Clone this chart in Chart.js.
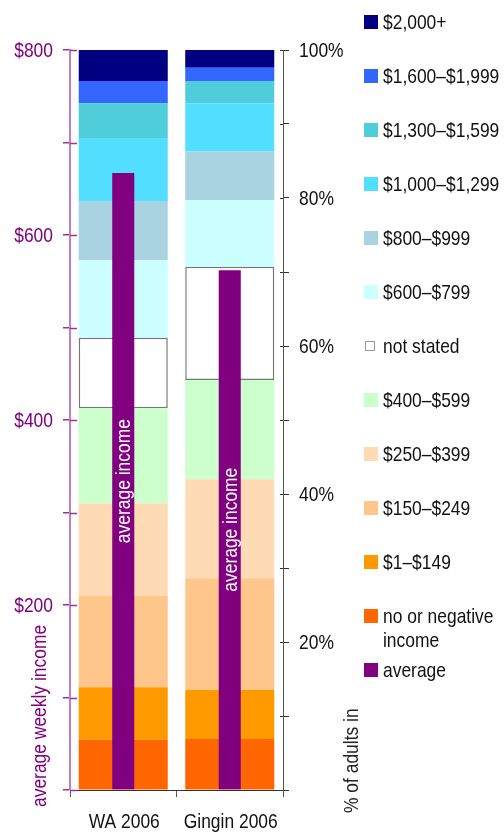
<!DOCTYPE html>
<html>
<head>
<meta charset="utf-8">
<script src="https://cdn.jsdelivr.net/npm/chart.js@4/dist/chart.umd.min.js"></script>
<style>
  html, body { margin: 0; padding: 0; background: #fff; }
  #wrap { position: relative; width: 504px; height: 832px; }
</style>
</head>
<body>
<div id="wrap"><canvas id="chart" width="504" height="832"></canvas></div>
<script>
const categories = ['WA 2006', 'Gingin 2006'];

// income bands, bottom of the stack first
const bandLabels = [
  ['no or negative', 'income'], ['$1–$149'], ['$150–$249'], ['$250–$399'], ['$400–$599'],
  ['not stated'], ['$600–$799'], ['$800–$999'], ['$1,000–$1,299'], ['$1,300–$1,599'],
  ['$1,600–$1,999'], ['$2,000+'],
];
const bandColors = [
  '#ff6600', '#ff9900', '#ffc68c', '#ffdbb5', '#ccffcc',
  '#ffffff', '#ccffff', '#aad3e1', '#52deff', '#4fcddb',
  '#3366ff', '#000080',
];

// % of adults in each band
const waShares     = [6.8, 7.1, 12.4, 12.4, 12.9, 9.5, 10.5, 8.0, 8.5, 4.7, 3.0, 4.2];
const ginginShares = [6.9, 6.6, 15.1, 13.4, 13.4, 15.3, 9.0, 6.6, 6.5, 3.0, 1.8, 2.4];

// average weekly income ($)
const averageIncome = [667, 562];

const dollarTicks = [200, 400, 600, 800];
const percentTicks = [20, 40, 60, 80, 100];

const PURPLE = '#800080';
const INK = '#111';
// source uses a narrow sans; no narrow face installed, so squeeze Liberation Sans
const FONT = "'Liberation Sans', Arial, sans-serif";
const FSIZE = 21;
const SQUEEZE = 0.83;

const NOT_STATED = 5;

function narrowText(ctx, text, x, y, opts = {}) {
  ctx.save();
  ctx.translate(x, y);
  if (opts.rotate) ctx.rotate(opts.rotate);
  ctx.scale(SQUEEZE, 1);
  ctx.font = `${FSIZE}px ${FONT}`;
  ctx.fillStyle = opts.color || INK;
  ctx.textAlign = opts.align || 'left';
  ctx.textBaseline = opts.baseline || 'middle';
  ctx.fillText(text, 0, 0);
  ctx.restore();
}

const bandSets = bandLabels.map((label, i) => ({
  label: label.join(' '),
  legendLines: label,
  data: [waShares[i], ginginShares[i]],
  yAxisID: 'y2',
  backgroundColor: bandColors[i],
  borderColor: i === NOT_STATED ? '#777' : bandColors[i],
  borderWidth: i === NOT_STATED ? 1.5 : 0,
  borderSkipped: false,
  barPercentage: 0.836,
  categoryPercentage: 1,
  order: 1,
}));

const avgSet = {
  label: 'average',
  legendLines: ['average'],
  data: averageIncome,
  yAxisID: 'y',
  backgroundColor: PURPLE,
  borderWidth: 0,
  barPercentage: 0.207,
  categoryPercentage: 1,
  order: 0,
  isAverage: true,
};

// white label down the middle of each average bar
const avgLabelPlugin = {
  id: 'avgLabel',
  afterDatasetsDraw(chart) {
    const idx = chart.data.datasets.findIndex(d => d.isAverage);
    chart.getDatasetMeta(idx).data.forEach(bar => {
      narrowText(chart.ctx, 'average income', bar.x + 1, (bar.y + bar.base) / 2,
        { rotate: -Math.PI / 2, align: 'center', color: '#fff' });
    });
  },
};

// tick labels + inner half of the tick marks (they cross the axis line in the source)
const axisDecorPlugin = {
  id: 'axisDecor',
  afterDraw(chart) {
    const ctx = chart.ctx;
    const { left, right, bottom } = chart.chartArea;
    const { x, y, y2 } = chart.scales;

    ctx.save();
    ctx.lineWidth = 1.5;
    ctx.strokeStyle = '#993399';
    y.ticks.forEach(t => {
      const py = Math.round(y.getPixelForValue(t.value)) + 0.5;
      ctx.beginPath(); ctx.moveTo(left, py); ctx.lineTo(left + 7, py); ctx.stroke();
    });
    ctx.lineWidth = 1;
    ctx.strokeStyle = '#333';
    y2.ticks.forEach(t => {
      const py = Math.round(y2.getPixelForValue(t.value)) + 0.5;
      ctx.beginPath(); ctx.moveTo(right - 3, py); ctx.lineTo(right, py); ctx.stroke();
    });
    ctx.restore();

    dollarTicks.forEach(v => narrowText(ctx, '$' + v, left - 17, y.getPixelForValue(v) + 1,
      { align: 'right', color: PURPLE }));
    percentTicks.forEach(v => narrowText(ctx, v + '%', right + 16, y2.getPixelForValue(v) + 1));
    categories.forEach((c, i) => narrowText(ctx, c, x.getPixelForValue(i) + 1, bottom + 38,
      { align: 'center', baseline: 'alphabetic' }));

    // rotated axis titles sitting low on each side
    narrowText(ctx, 'average weekly income', 40, 807, { rotate: -Math.PI / 2, color: PURPLE });
    narrowText(ctx, '% of adults in', right + 69, 813, { rotate: -Math.PI / 2, color: '#222' });
  },
};

// legend column on the right, highest band first
const sideLegendPlugin = {
  id: 'sideLegend',
  afterDraw(chart) {
    const ctx = chart.ctx;
    const sets = chart.data.datasets;
    const items = sets.filter(d => !d.isAverage).slice().reverse().concat(sets.filter(d => d.isAverage));
    const x0 = 364;
    let yy = 22;
    items.forEach(item => {
      ctx.save();
      if (item.borderWidth) {
        ctx.fillStyle = '#fff';
        ctx.fillRect(x0 + 1, yy - 5, 10, 10);
        ctx.strokeStyle = '#999';
        ctx.lineWidth = 1;
        ctx.strokeRect(x0 + 1.5, yy - 4.5, 9, 9);
      } else {
        ctx.fillStyle = item.backgroundColor;
        ctx.fillRect(x0, yy - 7, 14, 14);
      }
      ctx.restore();
      item.legendLines.forEach((line, k) => narrowText(ctx, line, 383, yy + 1 + k * 24));
      yy += 54;
    });
  },
};

new Chart(document.getElementById('chart'), {
  type: 'bar',
  data: {
    labels: categories,
    datasets: [avgSet, ...bandSets],
  },
  options: {
    responsive: false,
    animation: false,
    layout: { padding: { top: 50, left: 0, right: 0, bottom: 0 } },
    plugins: { legend: { display: false }, tooltip: { enabled: false } },
    scales: {
      x: {
        stacked: true,
        offset: true,
        grid: { offset: true, drawOnChartArea: false, tickLength: 7, color: '#555' },
        border: { color: '#333' },
        ticks: { display: false },
        afterFit(s) { s.height = 42; },
      },
      y: {
        position: 'left',
        min: 0,
        max: 800,
        stacked: false,
        ticks: { stepSize: 100, display: false },
        grid: { drawOnChartArea: false, tickLength: 7, color: '#993399', lineWidth: 1.5 },
        border: { color: '#c080c0', width: 2 },
        afterFit(s) { s.width = 70; },
      },
      y2: {
        position: 'right',
        min: 0,
        max: 100,
        stacked: true,
        ticks: { stepSize: 10, display: false },
        grid: { drawOnChartArea: false, tickLength: 6, color: '#333' },
        border: { color: '#555' },
        afterFit(s) { s.width = 221; },
      },
    },
  },
  plugins: [avgLabelPlugin, axisDecorPlugin, sideLegendPlugin],
});
</script>
</body>
</html>
